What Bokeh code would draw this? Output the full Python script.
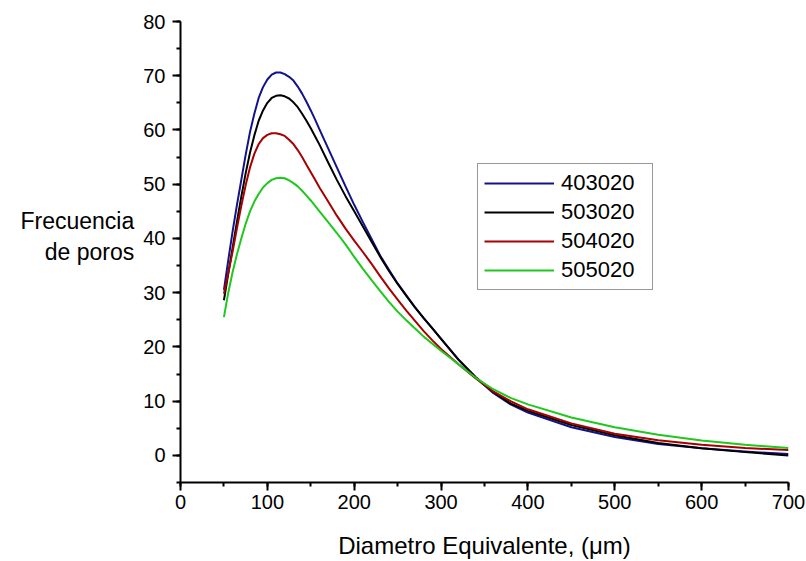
from bokeh.plotting import figure
from bokeh.models import Range1d, SingleIntervalTicker, Legend, LegendItem
from bokeh.embed import file_html
from bokeh.resources import INLINE

diametro = [50, 55, 60, 65, 70, 75, 80, 85, 90, 95, 100, 105, 110, 115, 120, 125, 130, 135,
            140, 145, 150, 155, 160,
            170, 180, 190, 200, 210, 220, 230, 240, 250, 260, 270, 280, 290, 300,
            320, 340, 360, 380, 400,
            450, 500, 550, 600, 650, 700]

s403020 = [30.5, 36.0, 41.3, 46.2, 50.8, 55.4, 59.6, 63.0, 65.9, 67.9, 69.3, 70.2, 70.6, 70.6,
           70.3, 69.8, 69.1, 68.0, 66.7, 65.2, 63.6, 61.9, 60.1,
           56.6, 53.1, 49.6, 46.2, 43.0, 39.9, 36.8, 34.2, 31.7, 29.5, 27.3, 25.3, 23.4, 21.5,
           17.6, 14.3, 11.5, 9.4, 7.9,
           5.2, 3.4, 2.1, 1.3, 0.7, 0.25]
s503020 = [28.6, 33.5, 38.3, 43.1, 47.7, 52.0, 55.8, 59.0, 61.7, 63.6, 65.0, 65.9, 66.3, 66.4,
           66.2, 65.8, 65.1, 64.2, 63.0, 61.7, 60.3, 58.8, 57.3,
           54.0, 50.8, 47.8, 45.0, 42.2, 39.4, 36.6, 34.0, 31.6, 29.4, 27.3, 25.3, 23.4, 21.5,
           17.7, 14.4, 11.7, 9.6, 8.2,
           5.6, 3.7, 2.3, 1.3, 0.6, 0.0]
s504020 = [29.8, 33.6, 37.6, 41.9, 46.0, 49.8, 53.1, 55.6, 57.4, 58.5, 59.1, 59.4, 59.4, 59.2,
           58.9, 58.2, 57.4, 56.3, 55.0, 53.6, 52.2, 50.8, 49.4,
           46.8, 44.2, 41.8, 39.6, 37.5, 35.3, 33.0, 30.8, 28.7, 26.7, 24.8, 22.9, 21.2, 19.6,
           16.8, 14.2, 11.8, 10.0, 8.5,
           5.9, 4.0, 2.8, 1.95, 1.35, 1.0]
s505020 = [25.5, 30.0, 33.8, 37.1, 40.0, 42.7, 45.0, 46.8, 48.2, 49.4, 50.2, 50.8, 51.1, 51.2,
           51.1, 50.7, 50.2, 49.6, 48.8, 47.9, 47.0, 46.0, 45.0,
           43.0, 41.0, 38.9, 36.6, 34.4, 32.3, 30.3, 28.3, 26.5, 24.9, 23.4, 21.9, 20.6, 19.3,
           16.8, 14.3, 12.2, 10.6, 9.4,
           7.0, 5.2, 3.8, 2.75, 1.95, 1.35]

series_names = ["403020", "503020", "504020", "505020"]
series_values = [s403020, s503020, s504020, s505020]
colors = ["#12128c", "#000000", "#a80000", "#1ec81e"]

FONT = "Liberation Sans"

p = figure(width=806, height=561, output_backend="svg", toolbar_location=None,
           x_range=Range1d(0, 700), y_range=Range1d(-5, 80),
           min_border_left=180, min_border_right=18, min_border_top=21,
           min_border_bottom=79)
p.outline_line_color = None
p.xgrid.visible = False
p.ygrid.visible = False
p.background_fill_color = "white"
p.border_fill_color = "white"

renderers = []
for name, vals, c in zip(series_names, series_values, colors):
    r = p.line(diametro, vals, line_color=c, line_width=2, line_join="round")
    renderers.append((name, r))

for ax in (p.xaxis[0], p.yaxis[0]):
    ax.axis_line_width = 2
    ax.axis_line_color = "black"
    ax.major_tick_line_width = 2
    ax.minor_tick_line_width = 2
    ax.major_tick_in = 0
    ax.major_tick_out = 8
    ax.minor_tick_in = 0
    ax.minor_tick_out = 4
    ax.major_label_text_font = FONT
    ax.major_label_text_font_size = "20px"
    ax.major_label_text_color = "black"
    ax.axis_label_text_font = FONT
    ax.axis_label_text_font_style = "normal"
    ax.axis_label_text_color = "black"

p.xaxis[0].ticker = SingleIntervalTicker(interval=100, num_minor_ticks=2)
p.yaxis[0].ticker = SingleIntervalTicker(interval=10, num_minor_ticks=2)
p.xaxis[0].major_label_standoff = 4
p.yaxis[0].major_label_standoff = 7
p.xaxis[0].axis_label = "Diametro Equivalente, (\u03bcm)"
p.xaxis[0].axis_label_text_font_size = "24px"
p.xaxis[0].axis_label_standoff = 20
p.yaxis[0].axis_label = "Frecuencia\nde poros\n "
p.yaxis[0].axis_label_text_font_size = "23px"
p.yaxis[0].axis_label_orientation = "horizontal"
p.yaxis[0].axis_label_standoff = 6
p.yaxis[0].axis_label_text_align = "center"

legend = Legend(items=[LegendItem(label=n, renderers=[r]) for n, r in renderers],
                location=(297, 192))
legend.border_line_color = "#333333"
legend.border_line_width = 1
legend.background_fill_alpha = 1.0
legend.label_text_font = FONT
legend.label_text_font_size = "22px"
legend.label_text_color = "black"
legend.glyph_width = 70
legend.glyph_height = 24
legend.label_height = 24
legend.label_width = 85
legend.label_standoff = 7
legend.spacing = 3
legend.padding = 6
legend.margin = 0
p.add_layout(legend, "center")

open("out.html", "w").write(file_html(p, INLINE))
